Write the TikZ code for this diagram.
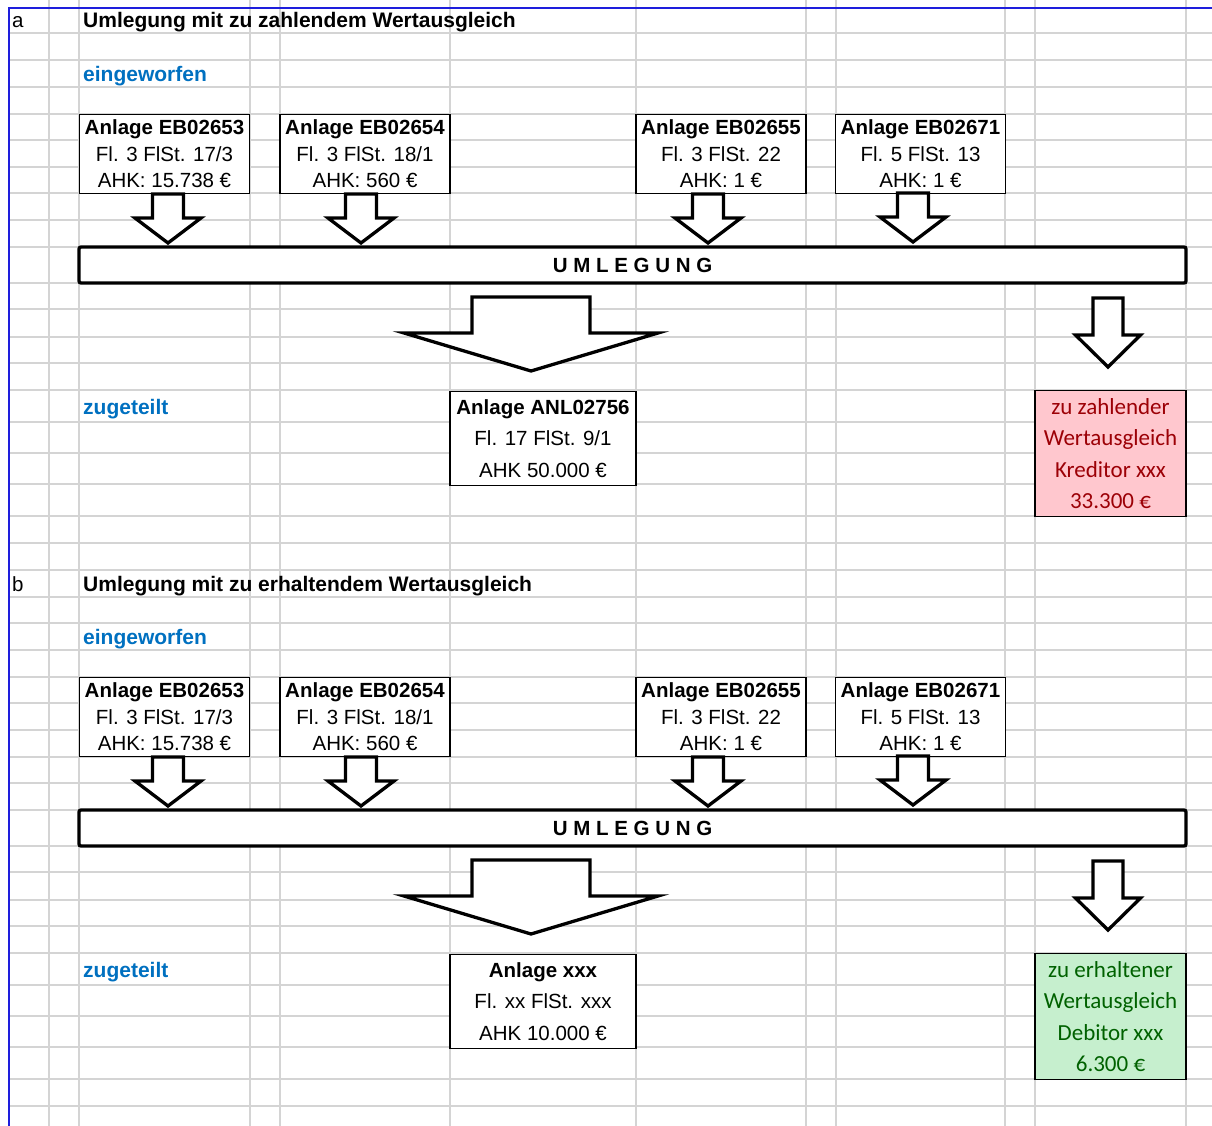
\documentclass[tikz,border=0pt]{standalone}
\usepackage{fontspec}
\setmainfont{Liberation Sans}
\newfontfamily\calibri{Carlito}
\definecolor{gridgray}{RGB}{212,212,212}
\definecolor{frameblue}{RGB}{30,30,220}
\definecolor{headblue}{RGB}{0,112,192}
\definecolor{badfill}{RGB}{255,199,206}
\definecolor{badtext}{RGB}{156,0,6}
\definecolor{goodfill}{RGB}{198,239,206}
\definecolor{goodtext}{RGB}{0,97,0}
% block arrow: centre x, top y, half shaft, shaft length, half head, head length
\newcommand{\blkarrow}[6]{%
  \draw[blk] (#1-#3,#2) -- ++(2*#3,0) -- ++(0,#4) -- ++(#5-#3,0) -- ++(-#5,#6) -- ++(-#5,-#6) -- ++(#5-#3,0) -- cycle;}
\begin{document}
\begin{tikzpicture}[x=1pt,y=-1pt,
    gridline/.style={gridgray,line width=1.2pt},
    lbl/.style={anchor=base west,inner sep=0pt,font=\fontsize{20.5}{24}\selectfont},
    sectitle/.style={lbl,font=\fontsize{21}{24}\selectfont\bfseries},
    blueword/.style={sectitle,text=headblue},
    asset/.style={draw,line width=1.6pt,fill=white,inner sep=0pt,align=center,minimum width=170pt,minimum height=79pt,font=\fontsize{20.5}{26.5}\selectfont},
    result/.style={asset,minimum width=186pt,minimum height=94pt,font=\fontsize{20.5}{31.5}\selectfont},
    balance/.style={draw,line width=1.6pt,inner sep=0pt,align=center,minimum width=151pt,minimum height=126pt,font=\calibri\fontsize{23}{31.5}\selectfont},
    umlbar/.style={draw,line width=3.3pt,fill=white,rounded corners=2pt,minimum width=1107pt,minimum height=36pt,inner sep=0pt,font=\fontsize{20.5}{24}\selectfont\bfseries},
    blk/.style={draw,line width=3.3pt,fill=white}]
\useasboundingbox (0,0) rectangle (1212,1126);
% sheet grid
\foreach \x in {49,79,250,280,450,636,806,836,1005,1035,1186}
  \draw[gridline] (\x,0) -- (\x,1126);
\foreach \y in {33,60,87,114,140,167,193,220,247,283,309,337,363,390,422,453,484,516,543,
                570,597,623,650,677,703,730,757,783,810,846,872,900,926,953,985,1016,1047,1079,1106}
  \draw[gridline] (9,\y) -- (1212,\y);
\draw[frameblue,line width=1.5pt] (9,1126) -- (9,8) -- (1212,8);

\foreach \s/\d in {a/0,b/563}{
  \begin{scope}[shift={(0,\d)}]
    \node[blueword] (thrownin-\s) at (83,81.5) {eingeworfen};
    \node[asset] (eb53-\s) at (164.5,154) {\textbf{Anlage EB02653}\\Fl. 3 FlSt. 17/3\\AHK: 15.738 €};
    \node[asset] (eb54-\s) at (365,154) {\textbf{Anlage EB02654}\\Fl. 3 FlSt. 18/1\\AHK: 560 €};
    \node[asset] (eb55-\s) at (721,154) {\textbf{Anlage EB02655}\\Fl. 3 FlSt. 22\\AHK: 1 €};
    \node[asset] (eb71-\s) at (920.5,154) {\textbf{Anlage EB02671}\\Fl. 5 FlSt. 13\\AHK: 1 €};
    \blkarrow{168}{194}{15.5}{24}{33}{25}
    \blkarrow{361}{194}{15.5}{24}{33}{25}
    \blkarrow{708}{194}{15.5}{24}{33}{25}
    \blkarrow{913}{193}{15.5}{24}{33}{25}
    \node[umlbar] (uml-\s) at (632.5,265) {U M L E G U N G};
    \blkarrow{531}{297}{59}{36}{127}{38}
    \blkarrow{1108}{298}{15}{37}{32.5}{32}
    \node[blueword] (allotted-\s) at (83,414) {zugeteilt};
  \end{scope}
}

\node[lbl] (seca) at (12,28) {a};
\node[sectitle] (titlea) at (83,28) {Umlegung mit zu zahlendem Wertausgleich};
\node[result] (anl) at (543,438.5) {\textbf{Anlage ANL02756}\\Fl. 17 FlSt. 9/1\\AHK 50.000 €};
\node[balance,fill=badfill,text=badtext] (pay) at (1110.5,453.5) {zu zahlender\\Wertausgleich\\Kreditor xxx\\33.300 €};

\node[lbl] (secb) at (12,591) {b};
\node[sectitle] (titleb) at (83,591) {Umlegung mit zu erhaltendem Wertausgleich};
\node[result] (newasset) at (543,1001.5) {\textbf{Anlage xxx}\\Fl. xx FlSt. xxx\\AHK 10.000 €};
\node[balance,fill=goodfill,text=goodtext] (receive) at (1110.5,1016.5) {zu erhaltener\\Wertausgleich\\Debitor xxx\\6.300 €};
\end{tikzpicture}
\end{document}
